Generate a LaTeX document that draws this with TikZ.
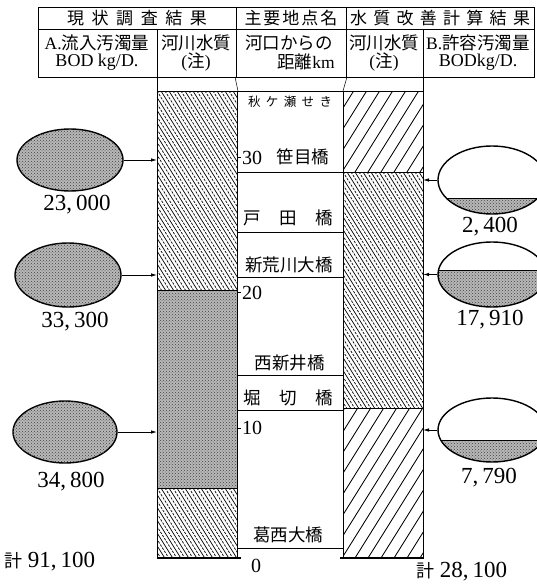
\documentclass[tikz,border=0pt]{standalone}
\usepackage{fontspec}
\setmainfont{Liberation Serif}
\newfontfamily\jp{Noto Sans CJK JP}
\usetikzlibrary{shapes.geometric,arrows.meta,patterns}
\newcommand{\spreadtext}[2]{\makebox[#1][s]{#2}}
% dense back-slash hatch, alternating solid and dashed lines
\newcommand{\backhatch}[4]{%
  \begin{scope}
    \clip (#1,#2) rectangle (#3,#4);
    \foreach \c in {-220,-212,...,100}
      \draw[line width=0.7pt] (#1+\c,#2) -- ++(162.5,260);
    \foreach \c in {-216,-208,...,100}
      \draw[line width=0.7pt, dash pattern=on 2.4pt off 1.3pt] (#1+\c,#2) -- ++(162.5,260);
  \end{scope}}
% sparse forward-slash hatch
\newcommand{\forehatch}[4]{%
  \begin{scope}
    \clip (#1,#2) rectangle (#3,#4);
    \foreach \c in {-170,-157,...,100}
      \draw[line width=0.85pt] (#1+\c,#4) -- ++(162.5,-260);
  \end{scope}}
\begin{document}
\begin{tikzpicture}[x=1pt,y=-1pt,
  frame/.style={line width=0.9pt},
  guide/.style={line width=0.5pt},
  hjp/.style={font=\jp\fontsize{17}{17}\selectfont, inner sep=0pt},
  cjp/.style={font=\jp\fontsize{17.5}{20}\selectfont, inner sep=0pt},
  smalljp/.style={font=\jp\fontsize{12.5}{13}\selectfont, inner sep=0pt},
  km/.style={font=\fontsize{20}{20}\selectfont, inner sep=0pt},
  amount/.style={font=\fontsize{23}{23}\selectfont, inner sep=0pt},
  halftone/.style={fill=black!28, postaction={pattern=crosshatch dots, pattern color=black!75}},
  blob/.style={ellipse, draw, line width=1.4pt, inner sep=0pt, minimum width=106pt},
  feed/.style={line width=0.8pt, -{Latex[length=6pt,width=3.5pt]}},
]
\useasboundingbox (0,0) rectangle (537,586);

% ---------- header table ----------
\draw[frame] (38,7) rectangle (534,77);
\draw[frame] (38,29) -- (534,29);
\draw[frame] (236,7) -- (236,77);
\draw[frame] (346,7) -- (346,77);
\draw[frame] (157,29) -- (157,77);
\draw[frame] (423,29) -- (423,77);
\node[hjp] (h1) at (137,18) {\spreadtext{140pt}{現\hfil 状\hfil 調\hfil 査\hfil 結\hfil 果}};
\node[hjp] (h2) at (291,18) {\spreadtext{93pt}{主\hfil 要\hfil 地\hfil 点\hfil 名}};
\node[hjp] (h3) at (440,18) {\spreadtext{180pt}{水\hfil 質\hfil 改\hfil 善\hfil 計\hfil 算\hfil 結\hfil 果}};
\node[cjp] (a1) at (97,43) {{\rmfamily A.}流入汚濁量};
\node[cjp, font=\fontsize{18}{18}\selectfont] (a2) at (97,62) {BOD kg/D.};
\node[cjp] (w1) at (196,43) {河川水質};
\node[cjp] (w2) at (196,62) {{\rmfamily (}注{\rmfamily )}};
\node[cjp] (d1) at (289,43) {河口からの};
\node[cjp, anchor=east] (d2) at (335,62) {距離{\rmfamily km}};
\node[cjp] (w3) at (384,43) {河川水質};
\node[cjp] (w4) at (384,62) {{\rmfamily (}注{\rmfamily )}};
\node[cjp] (b1) at (478,43) {{\rmfamily B.}許容汚濁量};
\node[cjp, font=\fontsize{18}{18}\selectfont] (b2) at (478,62) {BODkg/D.};

% guide marks between header and bars
\draw[guide] (157,77) -- (157,91);
\draw[guide] (235,77) -- (238,91);
\draw[guide] (347,77) -- (343,91);
\draw[guide] (423,77) -- (423,91);

% ---------- left bar (present river quality) ----------
\backhatch{157}{91}{237}{290}
\fill[halftone] (157,290) rectangle (237,488);
\backhatch{157}{488}{237}{558}
\draw[frame] (157,91) rectangle (237,558);
\draw[frame] (157,290) -- (237,290);
\draw[frame] (157,488) -- (237,488);
\draw[line width=1.2pt] (157,558) -- (241,558);

% ---------- right bar (improved river quality) ----------
\forehatch{343}{91}{423}{172}
\backhatch{343}{172}{423}{408}
\forehatch{343}{408}{423}{558}
\draw[frame] (343,91) rectangle (423,558);
\draw[frame] (343,172) -- (423,172);
\draw[frame] (343,408) -- (423,408);
\draw[line width=1.2pt] (340,558) -- (423,558);

% ---------- middle column ----------
\draw[frame] (237,91) -- (343,91);
\draw[frame] (237,172) -- (343,172);
\draw[frame] (237,232) -- (343,232);
\draw[frame] (237,277) -- (343,277);
\draw[frame] (237,375) -- (343,375);
\draw[frame] (237,410) -- (343,410);
\draw[frame] (237,548) -- (343,548);
\draw[guide] (237,157) -- (241,157);
\draw[guide] (237,292) -- (241,292);
\draw[guide] (237,428) -- (241,428);

\node[smalljp] (s0) at (290,102) {\spreadtext{84pt}{秋\hfil ケ\hfil 瀬\hfil せ\hfil き}};
\node[km] (k30) at (252,158) {30};
\node[cjp] (s1) at (303,157) {笹目橋};
\node[cjp] (s2) at (288,218) {\spreadtext{90pt}{戸\hfil 田\hfil 橋}};
\node[cjp] (s3) at (289,265) {新荒川大橋};
\node[km] (k20) at (252,293) {20};
\node[cjp] (s4) at (289.5,363) {西新井橋};
\node[cjp] (s5) at (288,398) {\spreadtext{90pt}{堀\hfil 切\hfil 橋}};
\node[km] (k10) at (252,428) {10};
\node[cjp] (s6) at (288,535) {葛西大橋};
\node[km] (k0) at (256,566) {0};

% ---------- left: present inflow loads ----------
\node[blob, halftone, minimum height=62pt] (L1) at (70,160) {};
\node[blob, halftone, minimum height=64pt] (L2) at (68,275) {};
\node[blob, halftone, minimum height=62pt, minimum width=104pt] (L3) at (65,432) {};
\coordinate (pL1) at (157,160);
\coordinate (pL2) at (157,275);
\coordinate (pL3) at (157,432);
\draw[feed] (L1.east) -- (pL1);
\draw[feed] (L2.east) -- (pL2);
\draw[feed] (L3.east) -- (pL3);
\node[amount] (nL1) at (77,205) {23,\,000};
\node[amount] (nL2) at (75,322) {33,\,300};
\node[amount] (nL3) at (71,482) {34,\,800};
\node[amount, anchor=west] (tL) at (4,562) {{\jp\fontsize{18}{18}\selectfont 計}\ 91,\,100};

% ---------- right: allowable loads ----------
\node[blob, minimum width=108pt, minimum height=68pt,
  path picture={\fill[halftone] ([yshift=-18pt]path picture bounding box.west) rectangle (path picture bounding box.south east);
    \draw[line width=1pt] ([yshift=-18pt]path picture bounding box.west) -- ([yshift=-18pt]path picture bounding box.east);}]
  (R1) at (492,180) {};
\node[blob, minimum width=108pt, minimum height=65pt,
  path picture={\fill[halftone] ([yshift=4.5pt]path picture bounding box.west) rectangle (path picture bounding box.south east);
    \draw[line width=1pt] ([yshift=4.5pt]path picture bounding box.west) -- ([yshift=4.5pt]path picture bounding box.east);}]
  (R2) at (492,274.5) {};
\node[blob, minimum width=108pt, minimum height=64pt,
  path picture={\fill[halftone] ([yshift=-10pt]path picture bounding box.west) rectangle (path picture bounding box.south east);
    \draw[line width=1pt] ([yshift=-10pt]path picture bounding box.west) -- ([yshift=-10pt]path picture bounding box.east);}]
  (R3) at (492,430) {};
\coordinate (pR1) at (423,180);
\coordinate (pR2) at (423,274.5);
\coordinate (pR3) at (423,430);
\draw[feed] (R1.west) -- (pR1);
\draw[feed] (R2.west) -- (pR2);
\draw[feed] (R3.west) -- (pR3);
\node[amount] (nR1) at (490,227) {2,\,400};
\node[amount] (nR2) at (490,320) {17,\,910};
\node[amount] (nR3) at (489,478) {7,\,790};
\node[amount, anchor=west] (tR) at (416,572) {{\jp\fontsize{18}{18}\selectfont 計}\ 28,\,100};
\end{tikzpicture}
\end{document}
